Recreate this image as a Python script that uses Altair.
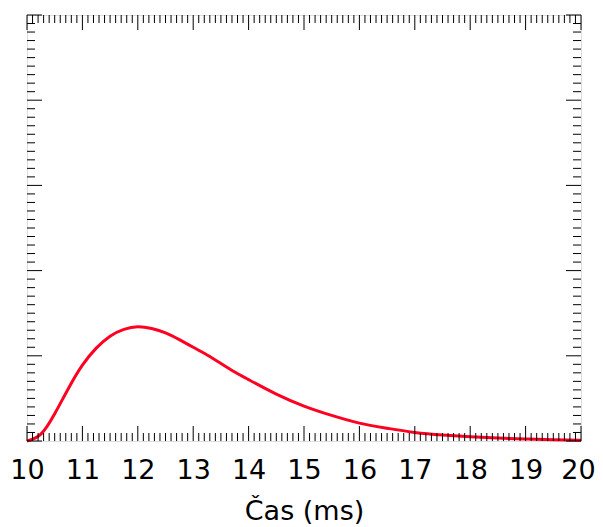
import altair as alt
import pandas as pd

# Curve values (time in ms, arbitrary amplitude units)
t_ms = [10.0, 10.25, 10.5, 10.75, 11.0, 11.25, 11.5, 11.75, 12.0, 12.25, 12.5, 12.75,
        13.0, 13.25, 13.5, 13.75, 14.0, 14.5, 15.0, 15.5, 16.0, 16.5, 17.0, 17.5,
        18.0, 18.5, 19.0, 19.5, 20.0]
amp = [0.0, 0.08, 0.32, 0.62, 0.89, 1.09, 1.23, 1.31, 1.34, 1.32, 1.27, 1.19,
       1.10, 1.01, 0.91, 0.81, 0.72, 0.55, 0.41, 0.30, 0.21, 0.15, 0.10, 0.07,
       0.05, 0.034, 0.023, 0.015, 0.01]

# Tick positions
x_major = [10, 11, 12, 13, 14, 15, 16, 17, 18, 19, 20]
x_minor = [round(10 + i * 0.1, 1) for i in range(101) if i % 10 != 0]
y_major = [0, 1, 2, 3, 4, 5]
y_minor = [round(i * 0.1, 1) for i in range(51) if i % 10 != 0]

W, H = 554, 426
MAJ, MIN = 15, 8

xs = alt.Scale(domain=[10, 20], nice=False, zero=False)
ys = alt.Scale(domain=[0, 5], nice=False)

x_axis = alt.Axis(values=x_major, ticks=False, grid=False, domain=False,
                  labelFlush=False, labelOverlap=False, labelBound=False,
                  labelOffset={"condition": {"test": "datum.value == 20", "value": -3}, "value": 0},
                  labelFontSize=27, labelFont="DejaVu Sans", labelColor="black",
                  labelPadding=16, title="Čas (ms)", titleFontSize=27,
                  titleFont="DejaVu Sans", titleFontWeight="normal",
                  titleColor="black", titlePadding=15)

curve_df = pd.DataFrame({"t": t_ms, "a": amp})
xmaj_df = pd.DataFrame({"t": x_major})
xmin_df = pd.DataFrame({"t": x_minor})
ymaj_df = pd.DataFrame({"a": y_major})
ymin_df = pd.DataFrame({"a": y_minor})

curve = alt.Chart(curve_df).mark_line(color="#ff0022", strokeWidth=3,
                                      interpolate="natural").encode(
    x=alt.X("t:Q", scale=xs, axis=x_axis),
    y=alt.Y("a:Q", scale=ys, axis=None),
)

def xticks(df, length, top):
    if top:
        yv, y2v = alt.value(0), alt.value(length)
    else:
        yv, y2v = alt.value(H), alt.value(H - length)
    return alt.Chart(df).mark_rule(color="black", strokeWidth=1).encode(
        x=alt.X("t:Q", scale=xs, axis=x_axis), y=yv, y2=y2v)

def yticks(df, length, right):
    if right:
        xv, x2v = alt.value(W), alt.value(W - length)
    else:
        xv, x2v = alt.value(0), alt.value(length)
    return alt.Chart(df).mark_rule(color="black", strokeWidth=1).encode(
        y=alt.Y("a:Q", scale=ys, axis=None), x=xv, x2=x2v)

layers = [
    curve,
    xticks(xmin_df, MIN, False), xticks(xmin_df, MIN, True),
    xticks(xmaj_df, MAJ, False), xticks(xmaj_df, MAJ, True),
    yticks(ymin_df, MIN, False), yticks(ymin_df, MIN, True),
    yticks(ymaj_df, MAJ, False), yticks(ymaj_df, MAJ, True),
]

chart = alt.layer(*layers).properties(
    width=W, height=H,
    padding={"left": 19, "top": 7, "right": 14, "bottom": 90},
    autosize=alt.AutoSizeParams(type="none"),
).configure_view(stroke="black", strokeWidth=1.2).configure(background="white")

chart.save("out.html", embed_options={"renderer": "svg", "actions": False})
